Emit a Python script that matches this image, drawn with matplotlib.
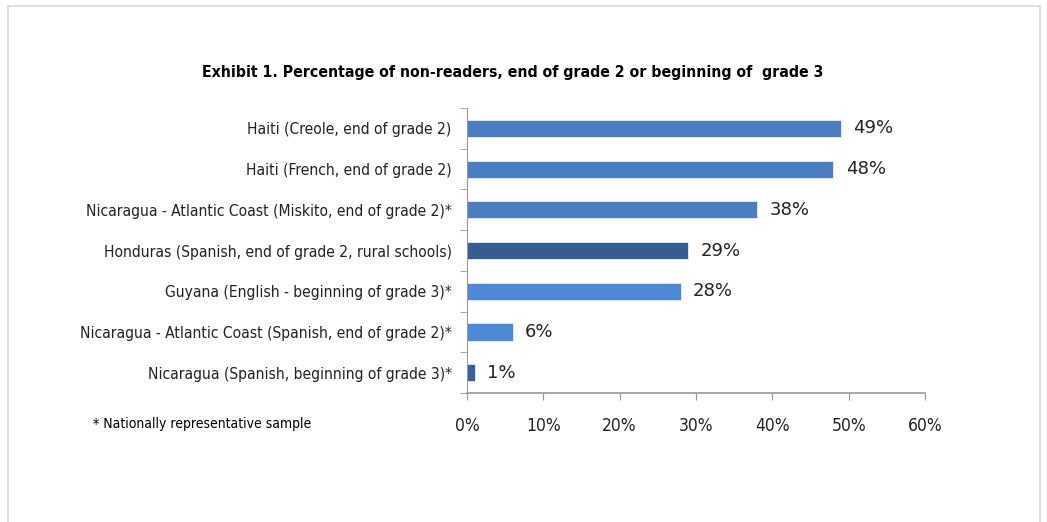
import numpy as np
import matplotlib.pyplot as plt
from matplotlib.patches import Rectangle
from matplotlib.ticker import FixedLocator, PercentFormatter

plt.rcParams['font.family'] = ['DejaVu Sans']
plt.rcParams['font.stretch'] = 'condensed'

# Daten (von oben nach unten)
labels = ["Haiti (Creole, end of grade 2)",
          "Haiti (French, end of grade 2)",
          "Nicaragua - Atlantic Coast (Miskito, end of grade 2)*",
          "Honduras (Spanish, end of grade 2, rural schools)",
          "Guyana (English - beginning of grade 3)*",
          "Nicaragua - Atlantic Coast (Spanish, end of grade 2)*",
          "Nicaragua (Spanish, beginning of grade 3)*"]
values = [49, 48, 38, 29, 28, 6, 1]
colors = ["#4a7ec0", "#4a7ec0", "#4a7ec0", "#355d90", "#4e89d6", "#4e89d6", "#35609a"]
xticks = [0, 10, 20, 30, 40, 50, 60]

fig = plt.figure(figsize=(10.47, 5.22), dpi=100)
ax = fig.add_axes([0.446, 0.247, 0.4375, 0.546])

y = np.arange(len(values))[::-1]
ax.barh(y, values, height=0.42, color=colors, edgecolor="#e8eef7", linewidth=0.6)

# Wertbeschriftungen
for yi, v in zip(y, values):
    ax.text(v + 1.6, yi, str(v) + "%", va="center", ha="left", fontsize=13,
            fontstretch="normal", color="#222222")

ax.set_xlim(0, 60)
ax.set_ylim(-0.5, len(values) - 0.5)
ax.set_xticks(xticks)
ax.xaxis.set_major_formatter(PercentFormatter(decimals=0))
ax.set_yticks(y)
ax.set_yticklabels(labels)
ax.yaxis.set_minor_locator(FixedLocator(np.arange(-0.5, len(values), 1)))

ax.tick_params(axis="y", which="major", length=0, pad=11, labelsize=11.2, colors="#222222")
ax.tick_params(axis="y", which="minor", length=5, color="#999999")
ax.tick_params(axis="x", length=5, pad=12, labelsize=12.5, color="#999999", labelcolor="#222222")

for s in ["top", "right"]:
    ax.spines[s].set_visible(False)
ax.spines["left"].set_color("#999999")
ax.spines["bottom"].set_color("#999999")
ax.spines["bottom"].set_linewidth(1.2)

fig.text(0.49, 0.862, "Exhibit 1. Percentage of non-readers, end of grade 2 or beginning of  grade 3",
         ha="center", va="center", fontsize=11.3, fontweight="bold")
fig.text(0.089, 0.188, "* Nationally representative sample", ha="left", va="center", fontsize=10)

# Rahmen
fig.patches.append(Rectangle((0.008, -0.05), 0.985, 1.038, transform=fig.transFigure,
                             fill=False, edgecolor="#d9d9d9", linewidth=1.2))

plt.savefig("out.png", dpi=100)
